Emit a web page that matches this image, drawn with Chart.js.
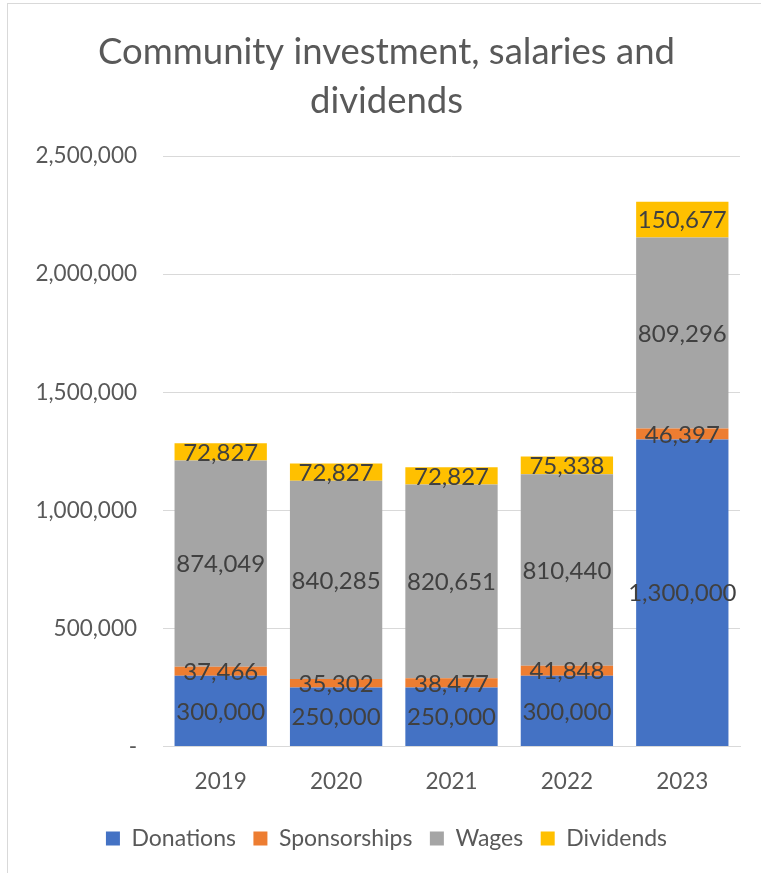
<!DOCTYPE html>
<html>
<head>
<meta charset="utf-8">
<script src="https://cdn.jsdelivr.net/npm/chart.js@4"></script>
<style>
  body { margin: 0; background: #fff; }
  #wrap { position: relative; width: 761px; height: 873px; overflow: hidden; }
  #frame { position: absolute; left: 7px; top: 3px; width: 800px; height: 900px; border: 1px solid #d9d9d9; }
  canvas { position: absolute; left: 0; top: 0; }
</style>
</head>
<body>
<div id="wrap">
  <div id="frame"></div>
  <canvas id="barChart" width="761" height="873"></canvas>
</div>
<script>
const years = ['2019', '2020', '2021', '2022', '2023'];
const donations = [300000, 250000, 250000, 300000, 1300000];
const sponsorships = [37466, 35302, 38477, 41848, 46397];
const wages = [874049, 840285, 820651, 810440, 809296];
const dividends = [72827, 72827, 72827, 75338, 150677];
const yTicks = [0, 500000, 1000000, 1500000, 2000000, 2500000];

const fmt = v => v.toLocaleString('en-US');

// labels in the middle of each stacked segment
const segmentLabels = {
  id: 'segmentLabels',
  afterDatasetsDraw(chart) {
    const c = chart.ctx;
    c.save();
    c.font = '24px Lato';
    c.fillStyle = '#404040';
    c.textAlign = 'center';
    c.textBaseline = 'middle';
    chart.data.datasets.forEach((ds, i) => {
      chart.getDatasetMeta(i).data.forEach((bar, j) => {
        c.fillText(fmt(ds.data[j]), bar.x, (bar.y + bar.base) / 2 + 1);
      });
    });
    c.restore();
  }
};

const ctx = document.getElementById('barChart').getContext('2d');

const barChart = new Chart(ctx, {
  type: 'bar',
  data: {
    labels: years,
    datasets: [
      { label: 'Donations', data: donations, backgroundColor: '#4472C4' },
      { label: 'Sponsorships', data: sponsorships, backgroundColor: '#ED7D31' },
      { label: 'Wages', data: wages, backgroundColor: '#A5A5A5' },
      { label: 'Dividends', data: dividends, backgroundColor: '#FFC000' }
    ]
  },
  options: {
    responsive: false,
    animation: false,
    layout: { padding: { left: 33, right: 21, top: 28, bottom: 13 } },
    datasets: {
      bar: { barPercentage: 0.8, categoryPercentage: 1 }
    },
    plugins: {
      tooltip: { enabled: false },
      title: {
        display: true,
        text: ['Community investment, salaries and', 'dividends'],
        color: '#595959',
        font: { family: 'Lato', size: 36.5, weight: 'normal', lineHeight: 1.33 },
        padding: { top: 0, bottom: 31 }
      },
      legend: {
        position: 'bottom',
        labels: {
          color: '#595959',
          font: { family: 'Lato', size: 23 },
          boxWidth: 14,
          boxHeight: 14,
          padding: 17.5
        }
      }
    },
    scales: {
      x: {
        stacked: true,
        grid: { display: false },
        border: { color: '#d9d9d9' },
        ticks: { color: '#595959', font: { family: 'Lato', size: 22.5 }, padding: 14 }
      },
      y: {
        stacked: true,
        min: 0,
        max: 2500000,
        afterBuildTicks: axis => { axis.ticks = yTicks.map(v => ({ value: v })); },
        afterFit: axis => { axis.width = 130; },
        grid: { color: '#d9d9d9', drawTicks: false },
        border: { display: false },
        ticks: {
          color: '#595959',
          font: { family: 'Lato', size: 22.5 },
          padding: 26,
          callback: function (value) {
            return value === 0 ? '-' : fmt(value);
          }
        }
      }
    }
  },
  plugins: [segmentLabels]
});
</script>
</body>
</html>
